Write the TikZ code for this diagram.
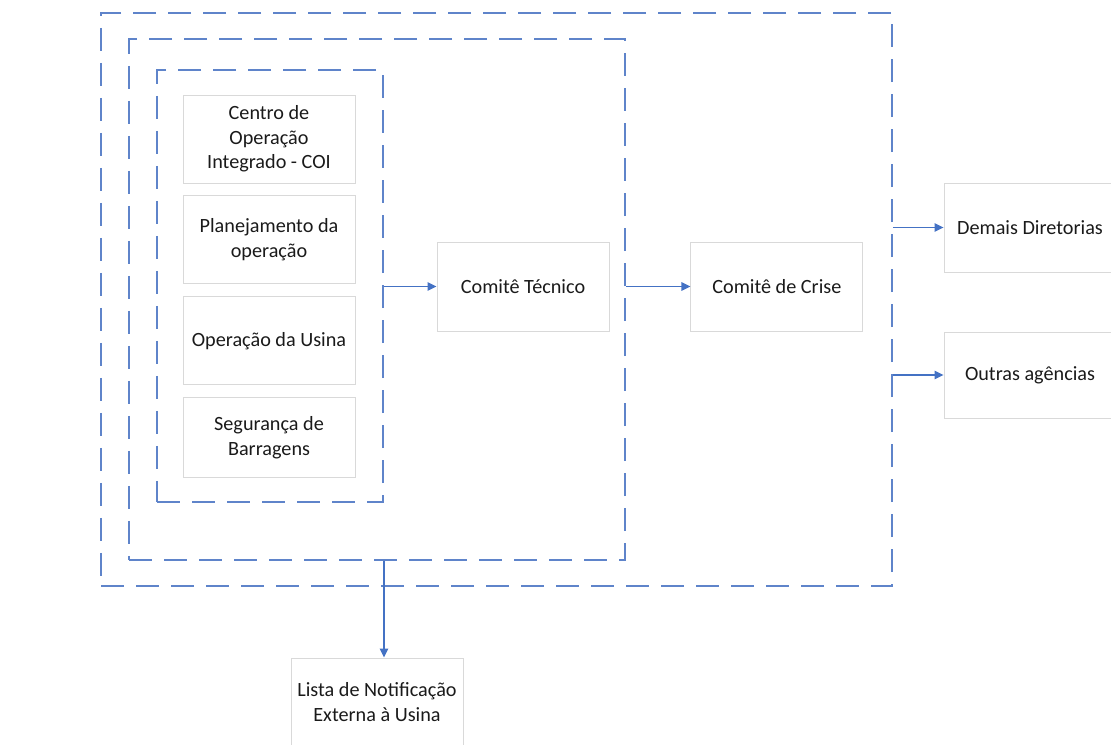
\documentclass[tikz,border=0pt]{standalone}
\usepackage{fontspec}
\setmainfont{Carlito}
\usepackage{xcolor}
\usepackage{tikz}
\usetikzlibrary{arrows.meta,positioning}

\definecolor{framecol}{HTML}{5F84CA}
\definecolor{arrowcol}{HTML}{4472C4}
\definecolor{boxline}{HTML}{D9D9D9}
\definecolor{textcol}{HTML}{1A1A1A}

\begin{document}
\begin{tikzpicture}[
    node distance=2.4mm and 10.8mm,
    font=\fontsize{11.5pt}{13.9pt}\selectfont,
    box/.style={draw=boxline, line width=0.5pt, align=center, text=textcol, minimum height=17.6mm, minimum width=34.4mm, inner sep=1mm},
    frame/.style={draw=framecol, line width=1.1pt, dash pattern=on 4.6mm off 2.4mm, inner sep=0pt},
    arrow/.style={-{Triangle[length=1.8mm, width=1.7mm]}, arrowcol, line width=0.8pt}
  ]
    \useasboundingbox (0,0) rectangle (22.22,-14.9);

    \node[frame, minimum width=15.82cm, minimum height=11.46cm] (outer) at (9.93,-5.99) {};
    \node[frame, minimum width=9.92cm, minimum height=10.42cm] (middle) at (7.54,-5.99) {};
    \node[frame, minimum width=4.52cm, minimum height=8.64cm] (inner) at (5.40,-5.72) {};

    \node[box] (centro) at (5.38,-2.78) {Centro de\\Operação\\Integrado - COI};
    \node[box, below=of centro] (planejamento) {Planejamento da\\operação};
    \node[box, below=of planejamento] (operacao) {Operação da Usina};
    \node[box, below=of operacao, minimum height=16mm] (seguranca) {Segurança de\\Barragens};

    \node[box, minimum height=17.8mm] (tecnico) at (10.46,-5.73) {Comitê Técnico};
    \node[box, minimum height=17.8mm, right=16.2mm of tecnico] (crise) {Comitê de Crise};

    \node[box, minimum height=17.8mm] (demais) at (20.60,-4.55) {Demais Diretorias};
    \node[box, minimum height=17.2mm] (outras) at (20.60,-7.50) {Outras agências};

    \node[box] (lista) at (7.54,-14.04) {Lista de Notificação\\Externa à Usina};

    \draw[arrow] (inner.east |- tecnico) -- (tecnico);
    \draw[arrow] (middle.east |- crise) -- (crise);
    \draw[arrow] (outer.east |- demais) -- (demais);
    \draw[arrow] (outer.east |- outras) -- (outras);
    \draw[arrow] ([xshift=1.4mm]middle.south -| lista.north) -- ([xshift=1.4mm]lista.north);
  \end{tikzpicture}
\end{document}
